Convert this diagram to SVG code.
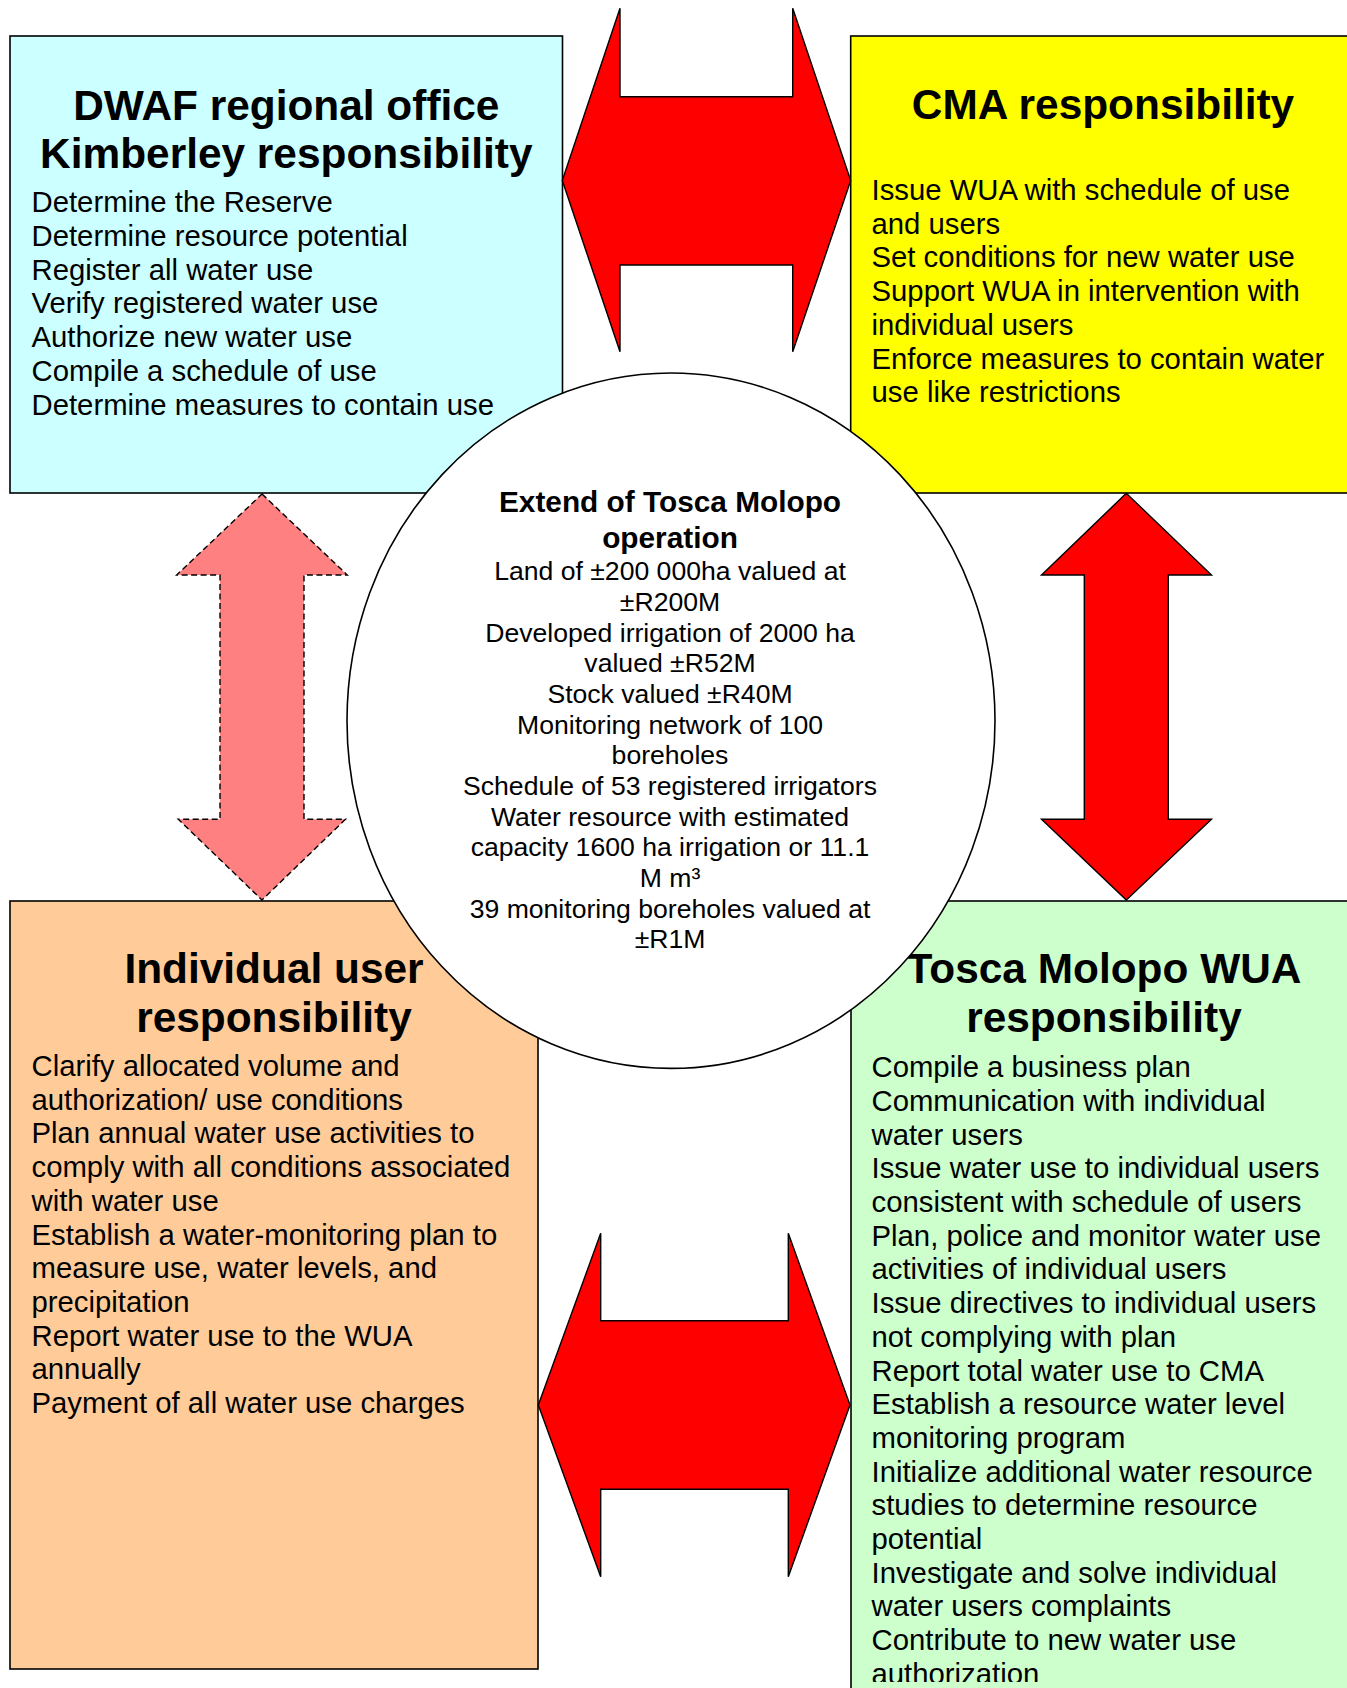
<svg xmlns="http://www.w3.org/2000/svg" width="1347" height="1688" viewBox="0 0 1347 1688">
  <defs>
    <style>
      text { font-family: "Liberation Sans", Arial, sans-serif; fill: #000; }
      .box { stroke: #000; stroke-width: 1.6; }
      .title { font-size: 42.4px; font-weight: bold; text-anchor: middle; }
      .body { font-size: 29.3px; }
      .ctitle { font-size: 29.8px; font-weight: bold; text-anchor: middle; }
      .cbody { font-size: 26.6px; text-anchor: middle; }
      .arrow { fill: #FF0000; stroke: #000; stroke-width: 1.4; stroke-linejoin: miter; }
      .arrow-soft { fill: #FF8080; stroke: #000; stroke-width: 1.4; stroke-dasharray: 6 3.5; }
    </style>
    <clipPath id="wua-clip">
      <rect x="851" y="901" width="500" height="781"/>
    </clipPath>
  </defs>

  <rect x="0" y="0" width="1347" height="1688" fill="#FFFFFF"/>

  <!-- DWAF regional office -->
  <g id="dwaf">
    <rect class="box" x="10" y="36" width="552.5" height="457" fill="#CCFFFF"/>
    <text class="title" x="286.3" y="119.5">DWAF regional office</text>
    <text class="title" x="286.3" y="168">Kimberley responsibility</text>
    <text class="body" x="31.5" y="212.3">Determine the Reserve</text>
    <text class="body" x="31.5" y="246">Determine resource potential</text>
    <text class="body" x="31.5" y="279.7">Register all water use</text>
    <text class="body" x="31.5" y="313.4">Verify registered water use</text>
    <text class="body" x="31.5" y="347.1">Authorize new water use</text>
    <text class="body" x="31.5" y="380.8">Compile a schedule of use</text>
    <text class="body" x="31.5" y="414.5">Determine measures to contain use</text>
  </g>

  <!-- CMA -->
  <g id="cma">
    <rect class="box" x="850.7" y="36" width="510" height="457" fill="#FFFF00"/>
    <text class="title" x="1103" y="119">CMA responsibility</text>
    <text class="body" x="871.5" y="200">Issue WUA with schedule of use</text>
    <text class="body" x="871.5" y="233.7">and users</text>
    <text class="body" x="871.5" y="267.4">Set conditions for new water use</text>
    <text class="body" x="871.5" y="301.1">Support WUA in intervention with</text>
    <text class="body" x="871.5" y="334.8">individual users</text>
    <text class="body" x="871.5" y="368.5">Enforce measures to contain water</text>
    <text class="body" x="871.5" y="402.2">use like restrictions</text>
  </g>

  <!-- Individual user -->
  <g id="individual">
    <rect class="box" x="10" y="901" width="528" height="768" fill="#FFCC99"/>
    <text class="title" x="274" y="982.5">Individual user</text>
    <text class="title" x="274" y="1031.5">responsibility</text>
    <text class="body" x="31.5" y="1076">Clarify allocated volume and</text>
    <text class="body" x="31.5" y="1109.7">authorization/ use conditions</text>
    <text class="body" x="31.5" y="1143.4">Plan annual water use activities to</text>
    <text class="body" x="31.5" y="1177.1">comply with all conditions associated</text>
    <text class="body" x="31.5" y="1210.8">with water use</text>
    <text class="body" x="31.5" y="1244.5">Establish a water-monitoring plan to</text>
    <text class="body" x="31.5" y="1278.2">measure use, water levels, and</text>
    <text class="body" x="31.5" y="1311.9">precipitation</text>
    <text class="body" x="31.5" y="1345.6">Report water use to the WUA</text>
    <text class="body" x="31.5" y="1379.3">annually</text>
    <text class="body" x="31.5" y="1413">Payment of all water use charges</text>
  </g>

  <!-- Tosca Molopo WUA -->
  <g id="wua">
    <rect class="box" x="851" y="901" width="510" height="800" fill="#CCFFCC"/>
    <text class="title" x="1104" y="982.5">Tosca Molopo WUA</text>
    <text class="title" x="1104" y="1031.5">responsibility</text>
    <g clip-path="url(#wua-clip)">
      <text class="body" x="871.5" y="1077.2">Compile a business plan</text>
      <text class="body" x="871.5" y="1110.9">Communication with individual</text>
      <text class="body" x="871.5" y="1144.6">water users</text>
      <text class="body" x="871.5" y="1178.3">Issue water use to individual users</text>
      <text class="body" x="871.5" y="1212">consistent with schedule of users</text>
      <text class="body" x="871.5" y="1245.7">Plan, police and monitor water use</text>
      <text class="body" x="871.5" y="1279.4">activities of individual users</text>
      <text class="body" x="871.5" y="1313.1">Issue directives to individual users</text>
      <text class="body" x="871.5" y="1346.8">not complying with plan</text>
      <text class="body" x="871.5" y="1380.5">Report total water use to CMA</text>
      <text class="body" x="871.5" y="1414.2">Establish a resource water level</text>
      <text class="body" x="871.5" y="1447.9">monitoring program</text>
      <text class="body" x="871.5" y="1481.6">Initialize additional water resource</text>
      <text class="body" x="871.5" y="1515.3">studies to determine resource</text>
      <text class="body" x="871.5" y="1549">potential</text>
      <text class="body" x="871.5" y="1582.7">Investigate and solve individual</text>
      <text class="body" x="871.5" y="1616.4">water users complaints</text>
      <text class="body" x="871.5" y="1650.1">Contribute to new water use</text>
      <text class="body" x="871.5" y="1684.3">authorization</text>
    </g>
  </g>

  <!-- Central operation summary -->
  <g id="operation">
    <ellipse cx="671" cy="720.7" rx="324" ry="347.7" fill="#FFFFFF" stroke="#000" stroke-width="1.6"/>
    <text class="ctitle" x="670" y="512">Extend of Tosca Molopo</text>
    <text class="ctitle" x="670" y="547.5">operation</text>
    <text class="cbody" x="670" y="580.4">Land of ±200 000ha valued at</text>
    <text class="cbody" x="670" y="611.05">±R200M</text>
    <text class="cbody" x="670" y="641.7">Developed irrigation of 2000 ha</text>
    <text class="cbody" x="670" y="672.35">valued ±R52M</text>
    <text class="cbody" x="670" y="703">Stock valued ±R40M</text>
    <text class="cbody" x="670" y="733.65">Monitoring network of 100</text>
    <text class="cbody" x="670" y="764.3">boreholes</text>
    <text class="cbody" x="670" y="794.95">Schedule of 53 registered irrigators</text>
    <text class="cbody" x="670" y="825.6">Water resource with estimated</text>
    <text class="cbody" x="670" y="856.25">capacity 1600 ha irrigation or 11.1</text>
    <text class="cbody" x="670" y="886.9">M m³</text>
    <text class="cbody" x="670" y="917.55">39 monitoring boreholes valued at</text>
    <text class="cbody" x="670" y="948.2">±R1M</text>
  </g>

  <!-- Double-headed block arrows between the parties -->
  <g id="connectors">
    <!-- DWAF <-> CMA -->
    <polygon class="arrow" points="562.3,180.5 620,8.3 620,96.7 792.7,96.7 792.7,8.3 850.7,180.5 792.7,351.7 792.7,265 620,265 620,351.7"/>
    <!-- CMA <-> WUA -->
    <polygon class="arrow" points="1126.3,493.3 1211.5,575 1168.3,575 1168.3,819.3 1211.5,819.3 1126.3,900 1041.5,819.3 1084.3,819.3 1084.3,575 1041.5,575"/>
    <!-- DWAF <-> individual user (dashed) -->
    <polygon class="arrow-soft" points="262,494 347.3,575 304,575 304,819.3 345.5,819.3 262,900 178.3,819.3 220,819.3 220,575 176.7,575"/>
    <!-- individual user <-> WUA -->
    <polygon class="arrow" points="538.3,1405 600.7,1233.3 600.7,1320.7 788.3,1320.7 788.3,1233.3 850,1405 788.3,1576.7 788.3,1489.3 600.7,1489.3 600.7,1576.7"/>
  </g>
</svg>
